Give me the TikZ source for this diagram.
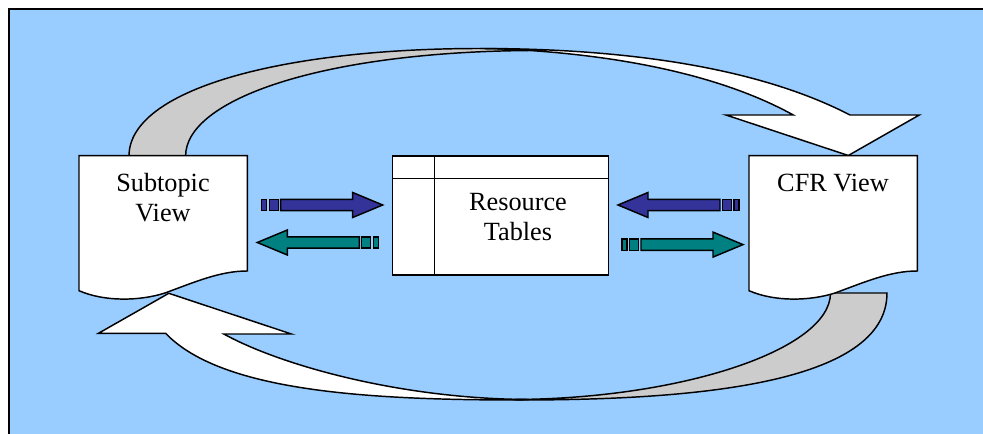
\documentclass[tikz,border=0pt]{standalone}
\usepackage{fontspec}
\setmainfont{Liberation Serif}
\definecolor{bgblue}{HTML}{99CCFF}
\definecolor{ribbongray}{HTML}{CCCCCC}
\definecolor{darkblue}{HTML}{333399}
\definecolor{tealc}{HTML}{008080}
\begin{document}
\begin{tikzpicture}[x=0.75pt,y=-0.75pt,line join=miter,
  shapeline/.style={draw=black,line width=1.1pt},
  lbl/.style={anchor=base,inner sep=0pt,font=\fontsize{19.7pt}{22.5pt}\selectfont},
  stripe arrow/.pic={
    \path[pic actions] (0,-5.7) rectangle (5,5.7);
    \path[pic actions] (7.6,-5.7) rectangle (16.6,5.7);
    \path[pic actions] (19,-5.7) -- (91,-5.7) -- (91,-12.5) -- (121,0) -- (91,12.5) -- (91,5.7) -- (19,5.7) -- cycle;
  }]
\useasboundingbox (0,0) rectangle (983,434);
\clip (0,0) rectangle (983,434);
% frame
\draw[fill=bgblue,line width=1.9pt] (9,9) rectangle (1000,450);
% top curved arrow
\draw[shapeline,fill=ribbongray] (129,156) .. controls (129,90) and (280,48.5) .. (480,48.5)
  .. controls (500,48.5) and (515,49.5) .. (530,50.5)
  .. controls (320,52) and (185.6,100) .. (185.6,156) -- cycle;
\draw[shapeline,fill=white] (480,48.5) .. controls (640,48.5) and (765,71) .. (850,115)
  -- (919.3,115) -- (848.3,155.5) -- (726,115) -- (793.3,115)
  .. controls (730,80) and (640,58) .. (530,50.5)
  .. controls (515,49.5) and (500,48.5) .. (480,48.5) -- cycle;
% bottom curved arrow
\draw[shapeline,fill=ribbongray] (887,293) .. controls (887,385) and (690,400) .. (518.7,400)
  -- (513,399.5) .. controls (680,399) and (830.5,350) .. (830.5,293) -- cycle;
\draw[shapeline,fill=white] (518.7,400) .. controls (360,400) and (220,390) .. (165.6,333.3)
  -- (98.5,333.3) -- (168.8,293.3) -- (291.4,334) -- (223.8,334)
  .. controls (280,365) and (400,399) .. (529,399.5) -- cycle;
% documents
\draw[shapeline,fill=white] (79,155.7) -- (247.3,155.7) -- (247.3,271)
  .. controls (220,271) and (195,282) .. (165,293)
  .. controls (140,301) and (105,302) .. (79,290.7) -- cycle;
\draw[shapeline,fill=white] (749,155.7) -- (917.3,155.7) -- (917.3,271)
  .. controls (890,271) and (865,282) .. (835,293)
  .. controls (810,301) and (775,302) .. (749,290.7) -- cycle;
% resource table
\draw[shapeline,fill=white] (392.3,156) rectangle (608.7,275);
\draw[shapeline] (392.3,178.7) -- (608.7,178.7) (434.3,156) -- (434.3,275);
% texts
\node[lbl] (subtopic) at (163,191.5) {\begin{tabular}[t]{@{}c@{}}Subtopic\\View\end{tabular}};
\node[lbl] (resource) at (518,210.7) {\begin{tabular}[t]{@{}c@{}}Resource\\Tables\end{tabular}};
\node[lbl] (cfr) at (833,191.5) {CFR View};
% striped block arrows
\pic[draw=black,line width=1.1pt,fill=darkblue] at (261.7,205) {stripe arrow};
\pic[draw=black,line width=1.1pt,fill=tealc,xscale=-1] at (378.3,242.5) {stripe arrow};
\pic[draw=black,line width=1.1pt,fill=darkblue,xscale=-1] at (739,205) {stripe arrow};
\pic[draw=black,line width=1.1pt,fill=tealc] at (622,244.6) {stripe arrow};
\end{tikzpicture}
\end{document}
